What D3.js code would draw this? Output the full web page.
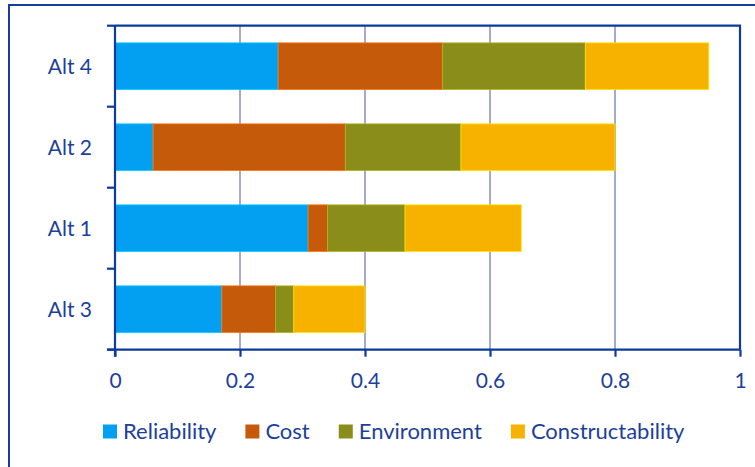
<!DOCTYPE html>
<html>
<head>
<meta charset="utf-8">
<script src="https://cdn.jsdelivr.net/npm/d3@7"></script>
<style>
  html, body { margin: 0; padding: 0; background: #fff; }
  svg { display: block; }
  text { font-family: Lato, "Open Sans", sans-serif; fill: #1d3f9b; }
</style>
</head>
<body>
<svg id="chart" width="755" height="467"></svg>
<script>
// Alternatives, listed top to bottom
const categories = ["Alt 4", "Alt 2", "Alt 1", "Alt 3"];
const seriesNames = ["Reliability", "Cost", "Environment", "Constructability"];
const seriesColors = ["#039ff1", "#c55a0b", "#8a8d1a", "#f7b200"];

// Weighted scores per criterion, in category order
const reliability      = [0.261, 0.061, 0.309, 0.171];
const cost             = [0.263, 0.3075, 0.031, 0.086];
const environment      = [0.2285, 0.185, 0.124, 0.029];
const constructability = [0.1975, 0.2465, 0.186, 0.114];

const xTicks = [0, 0.2, 0.4, 0.6, 0.8, 1];

const seriesValues = [reliability, cost, environment, constructability];
const rows = categories.map((c, i) => {
  const r = { category: c };
  seriesNames.forEach((s, j) => { r[s] = seriesValues[j][i]; });
  return r;
});

const svg = d3.select("#chart");
const axisColor = "#0c3a9e";
const gridColor = "#8f95c2";

const plot = { left: 115, right: 740, top: 25.7, bottom: 349.7 };

const x = d3.scaleLinear().domain([0, 1]).range([plot.left, plot.right]);
const y = d3.scaleBand().domain(categories)
  .range([plot.top, plot.bottom])
  .paddingInner(0.424).paddingOuter(0.212);

// Outer chart border (left and top edges)
svg.append("path")
  .attr("d", `M9,467 L9,5 L755,5`)
  .attr("fill", "none")
  .attr("stroke", "#183c9c")
  .attr("stroke-width", 2);

// Vertical gridlines
svg.append("g")
  .selectAll("line")
  .data(xTicks.filter(t => t > 0 && t < 1))
  .join("line")
  .attr("x1", d => x(d)).attr("x2", d => x(d))
  .attr("y1", plot.top).attr("y2", plot.bottom)
  .attr("stroke", gridColor)
  .attr("stroke-width", 1.6);

// Stacked bars
const stack = d3.stack().keys(seriesNames);
const layers = stack(rows);

svg.append("g")
  .selectAll("g")
  .data(layers)
  .join("g")
  .attr("fill", (d, i) => seriesColors[i])
  .attr("stroke", (d, i) => d3.color(seriesColors[i]).brighter(0.7))
  .attr("stroke-width", 0.8)
  .selectAll("rect")
  .data(d => d)
  .join("rect")
  .attr("x", d => x(d[0]))
  .attr("width", d => x(d[1]) - x(d[0]))
  .attr("y", d => y(d.data.category))
  .attr("height", y.bandwidth());

// Plot frame: top and right edges
svg.append("path")
  .attr("d", `M${plot.left},${plot.top} L${plot.right},${plot.top} L${plot.right},${plot.bottom}`)
  .attr("fill", "none")
  .attr("stroke", axisColor)
  .attr("stroke-width", 2.2);

// Bottom value axis
const xAxis = svg.append("g")
  .attr("transform", `translate(0,${plot.bottom})`)
  .call(d3.axisBottom(x).tickValues(xTicks).tickFormat(d3.format("~g")).tickSize(7).tickSizeOuter(0));
xAxis.select(".domain").remove();
xAxis.append("line")
  .attr("x1", plot.left - 8).attr("x2", plot.right)
  .attr("stroke", axisColor).attr("stroke-width", 2.2);
xAxis.selectAll(".tick line").attr("stroke", axisColor).attr("stroke-width", 2.2);
xAxis.selectAll(".tick text")
  .attr("y", 38).attr("dy", null)
  .style("font-size", "21px")
  .style("fill", "#1d3f9b")
  .attr("font-family", null);

// Left category axis: ticks sit on band boundaries
const bounds = d3.range(categories.length + 1).map(i => plot.top + i * y.step());
const yAxis = svg.append("g");
yAxis.append("line")
  .attr("x1", plot.left).attr("x2", plot.left)
  .attr("y1", plot.top).attr("y2", plot.bottom + 7)
  .attr("stroke", axisColor).attr("stroke-width", 2.2);
yAxis.selectAll("line.tick")
  .data(bounds)
  .join("line")
  .attr("class", "tick")
  .attr("x1", plot.left - 8).attr("x2", plot.left)
  .attr("y1", d => d).attr("y2", d => d)
  .attr("stroke", axisColor).attr("stroke-width", 2.2);
yAxis.selectAll("text")
  .data(categories)
  .join("text")
  .attr("x", 92)
  .attr("y", d => y(d) + y.bandwidth() / 2)
  .attr("dy", "0.36em")
  .attr("text-anchor", "end")
  .style("font-size", "21px")
  .text(d => d);

// Legend
const legend = svg.append("g").attr("transform", "translate(103,0)");
let lx = 0;
seriesNames.forEach((name, i) => {
  const g = legend.append("g").attr("transform", `translate(${lx},0)`);
  g.append("rect")
    .attr("x", 0).attr("y", 424.5)
    .attr("width", 14).attr("height", 14)
    .attr("fill", seriesColors[i]);
  const t = g.append("text")
    .attr("x", 20).attr("y", 439)
    .style("font-size", "22px")
    .text(name);
  lx += 20 + t.node().getComputedTextLength() + 29;
});
</script>
</body>
</html>
